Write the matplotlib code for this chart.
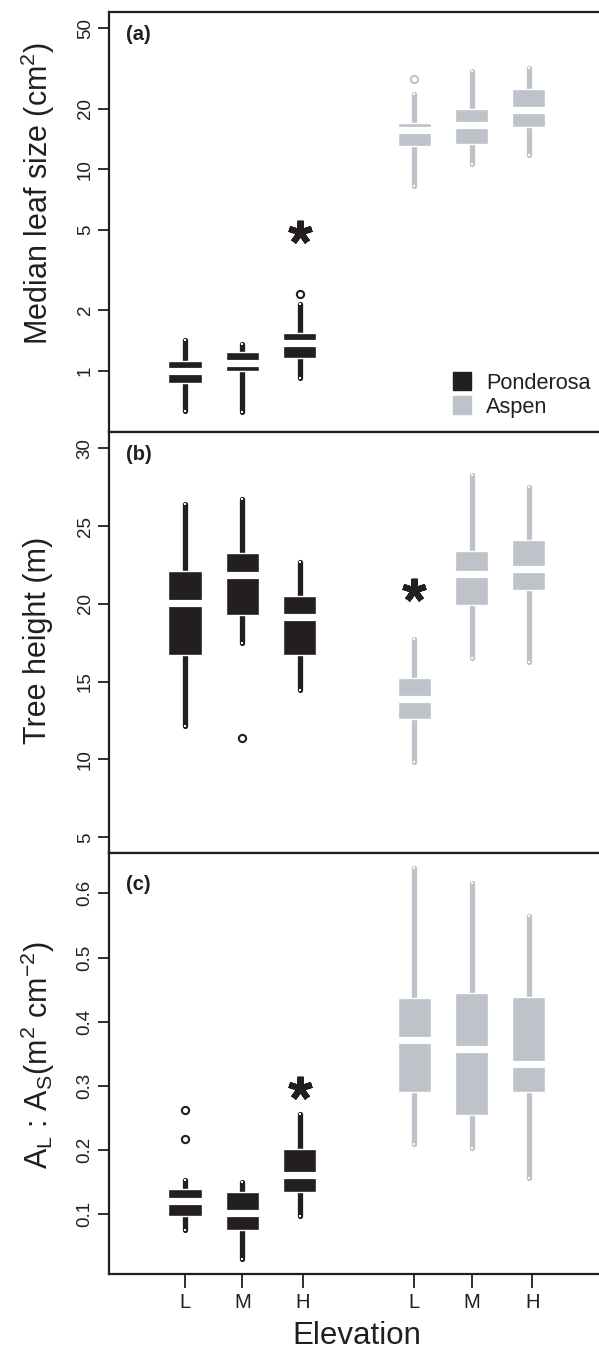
import matplotlib
matplotlib.use("Agg")
import matplotlib.pyplot as plt
from matplotlib.lines import Line2D

plt.rcParams['font.family'] = ['Liberation Sans', 'DejaVu Sans']
plt.rcParams['mathtext.fontset'] = 'custom'
plt.rcParams['mathtext.rm'] = 'Liberation Sans'
plt.rcParams['mathtext.it'] = 'Liberation Sans:italic'

# ---------------- data ----------------
elevations = ['L', 'M', 'H']
species = ['Ponderosa', 'Aspen']

# (a) median leaf size (cm2)
leaf_pond_lo = [0.633, 0.624, 0.923]
leaf_pond_q1 = [0.872, 1.000, 1.152]
leaf_pond_med = [0.993, 1.096, 1.367]
leaf_pond_q3 = [1.117, 1.234, 1.544]
leaf_pond_hi = [1.42, 1.352, 2.14]
leaf_pond_out = [[], [], [2.39]]
leaf_asp_lo = [8.25, 10.6, 11.8]
leaf_asp_q1 = [13.08, 13.4, 16.2]
leaf_asp_med = [15.6, 16.5, 19.6]
leaf_asp_q3 = [16.9, 19.9, 24.9]
leaf_asp_hi = [23.5, 30.8, 31.7]
leaf_asp_out = [[28.0], [], []]

# (b) tree height (m)
ht_pond_lo = [12.15, 17.5, 14.46]
ht_pond_q1 = [16.71, 19.28, 16.71]
ht_pond_med = [20.03, 21.83, 19.13]
ht_pond_q3 = [22.13, 23.24, 20.50]
ht_pond_hi = [26.39, 26.75, 22.71]
ht_pond_out = [[], [11.39], []]
ht_asp_lo = [9.83, 16.52, 16.26]
ht_asp_q1 = [12.57, 19.94, 20.87]
ht_asp_med = [13.90, 21.94, 22.26]
ht_asp_q3 = [15.21, 23.37, 24.10]
ht_asp_hi = [17.72, 28.26, 27.53]
ht_asp_out = [[], [], []]

# (c) AL:AS (m2 cm-2)
ra_pond_lo = [0.0755, 0.030, 0.0975]
ra_pond_q1 = [0.0978, 0.075, 0.135]
ra_pond_med = [0.120, 0.1015, 0.1607]
ra_pond_q3 = [0.140, 0.1347, 0.202]
ra_pond_hi = [0.1534, 0.150, 0.256]
ra_pond_out = [[0.262, 0.2178], [], []]
ra_asp_lo = [0.209, 0.2028, 0.156]
ra_asp_q1 = [0.2905, 0.2547, 0.291]
ra_asp_med = [0.371, 0.357, 0.3346]
ra_asp_q3 = [0.437, 0.444, 0.438]
ra_asp_hi = [0.639, 0.6156, 0.5647]
ra_asp_out = [[], [], []]

# significance stars: (species index, elevation index, y)
star_a = (0, 2, 4.86)
star_b = (1, 0, 20.89)
star_c = (0, 2, 0.296)

# ---------------- style ----------------
DARK = '#231f20'
GREY = '#bec2c9'
colors = [DARK, GREY]
pos_sets = [[1, 2, 3], [5, 6, 7]]
tick_pos = [1, 2, 3.06, 5, 6, 7.06]
BW = 0.58

W, H = 599, 1350
fig = plt.figure(figsize=(W / 100, H / 100), dpi=100)
L = 109 / W


def mk_ax(top_px, bot_px):
    return fig.add_axes([L, 1 - bot_px / H, 1.0 - L, (bot_px - top_px) / H])


axa = mk_ax(12, 432)
axb = mk_ax(432, 853)
axc = mk_ax(853, 1274)


def draw_group(ax, positions, lo, q1, med, q3, hi, outs, color):
    for i, p in enumerate(positions):
        # whiskers
        ax.plot([p, p], [q3[i], hi[i]], color=color, lw=3.8, solid_capstyle='round', zorder=1)
        ax.plot([p, p], [lo[i], q1[i]], color=color, lw=3.8, solid_capstyle='round', zorder=1)
        ax.plot([p, p], [lo[i], hi[i]], ls='none', marker='s', ms=1.6, color='white', mew=0, zorder=4)
        # box
        ax.bar(p, q3[i] - q1[i], bottom=q1[i], width=BW, color=color, edgecolor='white', lw=1.0, zorder=2)
        # median
        ax.hlines(med[i], p - BW / 2, p + BW / 2, colors='white', lw=5.2, zorder=3)
        # outliers
        if outs[i]:
            ax.plot([p] * len(outs[i]), outs[i], ls='none', marker='o', ms=5.2, mfc='white',
                    mec=color, mew=1.5, zorder=4)


draw_group(axa, pos_sets[0], leaf_pond_lo, leaf_pond_q1, leaf_pond_med, leaf_pond_q3, leaf_pond_hi, leaf_pond_out, DARK)
draw_group(axa, pos_sets[1], leaf_asp_lo, leaf_asp_q1, leaf_asp_med, leaf_asp_q3, leaf_asp_hi, leaf_asp_out, GREY)
draw_group(axb, pos_sets[0], ht_pond_lo, ht_pond_q1, ht_pond_med, ht_pond_q3, ht_pond_hi, ht_pond_out, DARK)
draw_group(axb, pos_sets[1], ht_asp_lo, ht_asp_q1, ht_asp_med, ht_asp_q3, ht_asp_hi, ht_asp_out, GREY)
draw_group(axc, pos_sets[0], ra_pond_lo, ra_pond_q1, ra_pond_med, ra_pond_q3, ra_pond_hi, ra_pond_out, DARK)
draw_group(axc, pos_sets[1], ra_asp_lo, ra_asp_q1, ra_asp_med, ra_asp_q3, ra_asp_hi, ra_asp_out, GREY)

for ax, st in ((axa, star_a), (axb, star_b), (axc, star_c)):
    ax.plot(pos_sets[st[0]][st[1]], st[2], ls='none', marker=(5, 2, 0), ms=17, mew=4.4,
            color=DARK, zorder=5)

axa.set_yscale('log')
axa.set_ylim(0.496, 60.3)
axa.set_yticks([1, 2, 5, 10, 20, 50])
axa.set_yticklabels(['1', '2', '5', '10', '20', '50'])
axa.minorticks_off()
axb.set_ylim(3.99, 31.04)
axb.set_yticks([5, 10, 15, 20, 25, 30])
axb.set_yticklabels(['5', '10', '15', '20', '25', '30'])
axc.set_ylim(0.007, 0.6628)
axc.set_yticks([0.1, 0.2, 0.3, 0.4, 0.5, 0.6])
axc.set_yticklabels(['0.1', '0.2', '0.3', '0.4', '0.5', '0.6'])

for ax in (axa, axb, axc):
    ax.set_xlim(-0.326, 8.225)
    ax.spines['right'].set_visible(False)
    for s in ('left', 'top', 'bottom'):
        ax.spines[s].set_linewidth(1.6)
        ax.spines[s].set_color(DARK)
    ax.tick_params(axis='y', length=8, width=1.3, pad=3, labelsize=13.5, colors=DARK)
    for t in ax.get_yticklabels():
        t.set_rotation(90)
        t.set_va('center')
        t.set_ha('right')
    ax.set_xticks([])

axc.set_xticks(tick_pos)
axc.set_xticklabels(elevations * 2)
axc.tick_params(axis='x', length=10, width=1.3, pad=4, labelsize=14.5, colors=DARK)

for ax, lab, ypx in ((axa, '(a)', 35), (axb, '(b)', 455), (axc, '(c)', 884)):
    fig.text(126 / W, 1 - ypx / H, lab, fontsize=14.5, fontweight='bold', ha='left', va='center', color=DARK)

fig.text(38 / W, 1 - 193 / H, r'Median leaf size (cm$^{\mathregular{2}}$)', rotation=90,
         ha='center', va='center', fontsize=22, color=DARK)
fig.text(38 / W, 1 - 640 / H, 'Tree height (m)', rotation=90,
         ha='center', va='center', fontsize=22, color=DARK)
fig.text(38 / W, 1 - 1055 / H,
         r'A$_{\mathregular{L}}$ : A$_{\mathregular{S}}$(m$^{\mathregular{2}}$ cm$^{\mathregular{-2}}$)',
         rotation=90, ha='center', va='center', fontsize=22, color=DARK)
fig.text(357 / W, 1 - 1344 / H, 'Elevation', ha='center', va='baseline', fontsize=22.5, color=DARK)

handles = [Line2D([], [], ls='none', marker='s', ms=13, mfc=c, mec=c, label=s) for s, c in zip(species, colors)]
axa.legend(handles=handles, loc='lower right', bbox_to_anchor=(0.997, 0.018), frameon=False,
           fontsize=15.7, handletextpad=0.6, labelspacing=0.15, borderaxespad=0.3,
           borderpad=0.0, handlelength=1.0, labelcolor=DARK)

fig.savefig('out.png', dpi=100)
